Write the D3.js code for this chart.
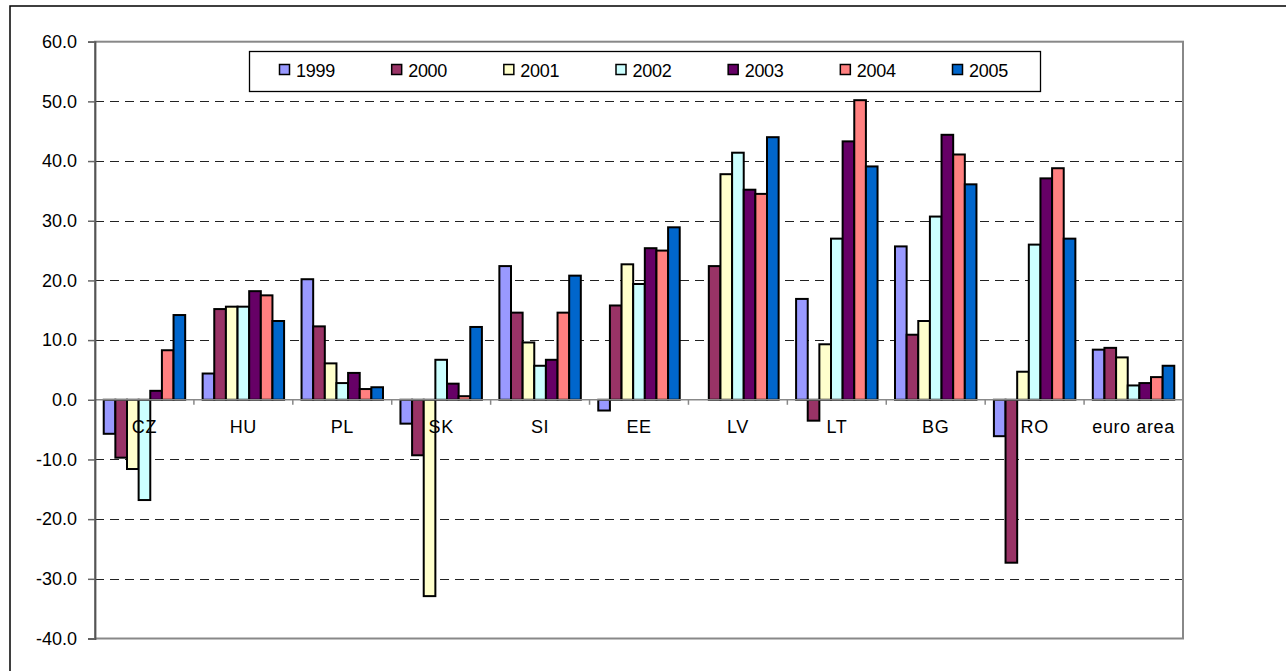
<!DOCTYPE html>
<html>
<head>
<meta charset="utf-8">
<script src="https://cdn.jsdelivr.net/npm/d3@7"></script>
<style>
  body { margin: 0; background: #fff; }
  svg { display: block; font-family: "Liberation Sans", Arial, sans-serif; }
</style>
</head>
<body>
<div id="chart"></div>
<script>
'use strict';

// Categories and series
var countries = ['CZ', 'HU', 'PL', 'SK', 'SI', 'EE', 'LV', 'LT', 'BG', 'RO', 'euro area'];
var years = ['1999', '2000', '2001', '2002', '2003', '2004', '2005'];

// One array per year, in the order of the countries
var v1999 = [-5.7, 4.4, 20.2, -4.0, 22.4, -1.8, 0.0, 16.9, 25.7, -6.1, 8.4];
var v2000 = [-9.7, 15.2, 12.3, -9.3, 14.6, 15.8, 22.4, -3.5, 10.9, -27.3, 8.7];
var v2001 = [-11.6, 15.6, 6.1, -32.9, 9.6, 22.7, 37.8, 9.3, 13.2, 4.7, 7.1];
var v2002 = [-16.8, 15.6, 2.8, 6.7, 5.7, 19.4, 41.4, 27.0, 30.7, 26.0, 2.4];
var v2003 = [1.5, 18.2, 4.5, 2.7, 6.7, 25.4, 35.2, 43.3, 44.4, 37.1, 2.8];
var v2004 = [8.3, 17.5, 1.8, 0.6, 14.6, 25.0, 34.5, 50.2, 41.1, 38.8, 3.8];
var v2005 = [14.2, 13.2, 2.1, 12.2, 20.8, 28.9, 44.0, 39.1, 36.1, 27.0, 5.7];

// Y axis ticks
var yTicks = [60, 50, 40, 30, 20, 10, 0, -10, -20, -30, -40];

var seriesValues = [v1999, v2000, v2001, v2002, v2003, v2004, v2005];
var colors = ['#9999FF', '#993366', '#FFFFCC', '#CCFFFF', '#660066', '#FF8080', '#0066CC'];

var width = 1286, height = 671;
var plot = { left: 95, right: 1183, top: 41.7, bottom: 638.5 };

var svg = d3.select('#chart').append('svg')
  .attr('width', width)
  .attr('height', height);

// Outer chart border (right and bottom fall outside the picture)
svg.append('rect')
  .attr('x', 10).attr('y', 6)
  .attr('width', 1300).attr('height', 700)
  .attr('fill', 'none')
  .attr('stroke', '#000')
  .attr('stroke-width', 1.5);

// Scales
var x0 = d3.scaleBand().domain(countries).range([plot.left, plot.right]).padding(0);
var step = x0.bandwidth();
var barW = step / (years.length + 1.5);
var x1 = d3.scaleBand().domain(years).range([0.75 * barW, step - 0.75 * barW]).padding(0);
var y = d3.scaleLinear().domain([-40, 60]).range([plot.bottom, plot.top]);

// Dashed gridlines
svg.append('g').selectAll('line')
  .data(yTicks.filter(function(t) { return t !== 0 && t !== 60 && t !== -40; }))
  .enter().append('line')
  .attr('x1', plot.left).attr('x2', plot.right)
  .attr('y1', function(d) { return Math.round(y(d)) + 0.5; })
  .attr('y2', function(d) { return Math.round(y(d)) + 0.5; })
  .attr('stroke', '#222')
  .attr('stroke-width', 1)
  .attr('stroke-dasharray', '9,6');

// Plot area border (gray)
svg.append('rect')
  .attr('x', plot.left).attr('y', y(60))
  .attr('width', plot.right - plot.left)
  .attr('height', y(-40) - y(60))
  .attr('fill', 'none')
  .attr('stroke', '#888')
  .attr('stroke-width', 2);

// Bars
var rows = countries.map(function(c, i) {
  return years.map(function(yr, j) {
    return { country: c, year: yr, value: seriesValues[j][i], color: colors[j] };
  });
});

svg.append('g').selectAll('g')
  .data(rows)
  .enter().append('g')
  .attr('transform', function(d, i) { return 'translate(' + x0(countries[i]) + ',0)'; })
  .selectAll('rect')
  .data(function(d) { return d.filter(function(b) { return b.value !== 0; }); })
  .enter().append('rect')
  .attr('x', function(d) { return x1(d.year); })
  .attr('width', x1.bandwidth())
  .attr('y', function(d) { return y(Math.max(0, d.value)); })
  .attr('height', function(d) { return Math.abs(y(d.value) - y(0)); })
  .attr('fill', function(d) { return d.color; })
  .attr('stroke', '#000')
  .attr('stroke-width', 2);

// Zero line with category ticks
svg.append('line')
  .attr('x1', plot.left).attr('x2', plot.right)
  .attr('y1', y(0)).attr('y2', y(0))
  .attr('stroke', '#888')
  .attr('stroke-width', 1.5);

svg.append('g').selectAll('line')
  .data(d3.range(countries.length + 1))
  .enter().append('line')
  .attr('x1', function(i) { return plot.left + i * step; })
  .attr('x2', function(i) { return plot.left + i * step; })
  .attr('y1', y(0)).attr('y2', y(0) + 5)
  .attr('stroke', '#888')
  .attr('stroke-width', 1.5);

// Category labels
svg.append('g').selectAll('text')
  .data(countries)
  .enter().append('text')
  .attr('x', function(d) { return x0(d) + step / 2; })
  .attr('y', y(0) + 33.5)
  .attr('text-anchor', 'middle')
  .attr('font-size', 18)
  .attr('letter-spacing', 0.6)
  .attr('fill', '#000')
  .text(function(d) { return d; });

// Y axis, plain hyphen for the minus sign
var fmt = d3.format('.1f');
var yAxis = d3.axisLeft(y)
  .tickValues(yTicks)
  .tickSize(7)
  .tickPadding(11)
  .tickFormat(function(d) { return fmt(d).replace('\u2212', '-'); });

var gy = svg.append('g')
  .attr('transform', 'translate(' + plot.left + ',0)')
  .call(yAxis);
gy.select('.domain').attr('stroke', '#555').attr('stroke-width', 1.8);
gy.selectAll('.tick line').attr('stroke', '#666').attr('stroke-width', 1.5);
gy.selectAll('.tick text')
  .attr('font-family', '"Liberation Sans", Arial, sans-serif')
  .attr('font-size', 18)
  .attr('fill', '#000');

// Legend
var legend = svg.append('g');
legend.append('rect')
  .attr('x', 249.5).attr('y', 51.5)
  .attr('width', 791).attr('height', 40)
  .attr('fill', '#fff')
  .attr('stroke', '#000')
  .attr('stroke-width', 1.3);

var legendX = d3.scalePoint().domain(years).range([279, 952]);
var items = legend.selectAll('g.item')
  .data(years)
  .enter().append('g')
  .attr('class', 'item')
  .attr('transform', function(d) { return 'translate(' + legendX(d) + ',0)'; });

items.append('rect')
  .attr('x', 0.5).attr('y', 64.5)
  .attr('width', 10).attr('height', 10)
  .attr('fill', function(d, i) { return colors[i]; })
  .attr('stroke', '#000')
  .attr('stroke-width', 1.5);

items.append('text')
  .attr('x', 17)
  .attr('y', 77)
  .attr('font-size', 18)
  .attr('letter-spacing', -0.3)
  .attr('fill', '#000')
  .text(function(d) { return d; });
</script>
</body>
</html>
